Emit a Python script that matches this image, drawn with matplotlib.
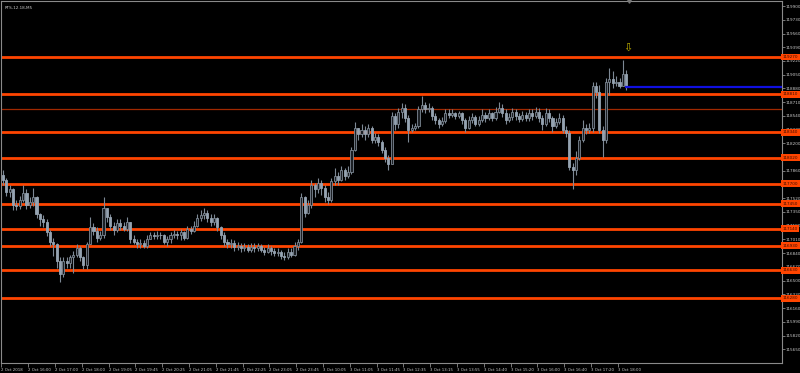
import matplotlib
matplotlib.use("Agg")
import matplotlib.pyplot as plt
import numpy as np

TITLE = "RTS-12.18,M5"

# RTS-12.18 M5 candles
first_open = 117810
close = [117750, 117600, 117630, 117440, 117420, 117500, 117590, 117440, 117470, 117530,
         117320, 117260, 117230, 117100, 116980, 116950, 116740, 116580, 116740, 116720,
         116790, 116820, 116900, 116790, 116690, 116950, 117170, 117120, 117030, 117060,
         117400, 117290, 117180, 117130, 117210, 117180, 117140, 117230, 117010, 116980,
         116950, 116970, 116930, 117020, 117060, 117050, 117070, 117060, 116980, 117010,
         117060, 117080, 117060, 117100, 117030, 117140, 117120, 117180, 117280, 117310,
         117340, 117280, 117230, 117270, 117160, 117060, 116980, 116950, 116970, 116920,
         116930, 116900, 116920, 116880, 116920, 116900, 116930, 116880, 116860, 116900,
         116870, 116840, 116860, 116810, 116790, 116860, 116820, 116930, 116980, 117540,
         117340, 117440, 117690, 117630, 117710, 117650, 117540, 117500, 117730, 117800,
         117750, 117870, 117800, 117850, 118120, 118390, 118310, 118370, 118320, 118390,
         118240, 118280, 118220, 118120, 118020, 117940, 118540, 118440, 118590, 118640,
         118520, 118370, 118390, 118410, 118620, 118680, 118620, 118640, 118540, 118490,
         118440, 118480, 118580, 118550, 118580, 118540, 118570, 118490, 118390, 118490,
         118530, 118440, 118490, 118550, 118520, 118570, 118520, 118590, 118640, 118580,
         118490, 118530, 118590, 118540, 118500, 118550, 118520, 118580, 118540, 118590,
         118520, 118440, 118580, 118520, 118420, 118470, 118520, 118370, 118330, 117910,
         117870, 118020, 118240, 118390, 118360, 118390, 118910, 118840, 118370, 118240,
         118960, 119000, 118950, 118960, 118910, 119060, 118900]
high = [117870, 117770, 117690, 117650, 117500, 117550, 117680, 117630, 117530, 117650,
        117550, 117340, 117310, 117260, 117130, 117030, 116970, 116790, 116790, 116790,
        116820, 116870, 116950, 116930, 116810, 116980, 117290, 117210, 117170, 117110,
        117540, 117380, 117320, 117220, 117260, 117260, 117220, 117290, 117230, 117060,
        117020, 117010, 117000, 117060, 117100, 117100, 117110, 117100, 117080, 117050,
        117100, 117130, 117120, 117140, 117120, 117180, 117180, 117240, 117330, 117370,
        117400, 117380, 117320, 117330, 117290, 117180, 117100, 117020, 117010, 117000,
        116980, 116960, 116970, 116950, 116970, 116960, 116970, 116950, 116920, 116950,
        116930, 116900, 116900, 116880, 116850, 116910, 116900, 116980, 117020, 117580,
        117550, 117500, 117750, 117710, 117770, 117750, 117690, 117600, 117770, 117900,
        117850, 117920, 117900, 117920, 118150, 118470, 118390, 118440, 118410, 118440,
        118420, 118330, 118320, 118240, 118160, 118060, 118590, 118570, 118640, 118700,
        118690, 118550, 118440, 118450, 118660, 118790, 118710, 118700, 118660, 118580,
        118520, 118530, 118630, 118620, 118620, 118590, 118600, 118590, 118520, 118540,
        118580, 118550, 118540, 118620, 118590, 118630, 118590, 118650, 118710, 118690,
        118620, 118580, 118640, 118620, 118580, 118600, 118590, 118630, 118620, 118650,
        118640, 118550, 118640, 118620, 118540, 118520, 118570, 118550, 118410, 118370,
        117960, 118100, 118290, 118490, 118440, 118450, 118960, 118960, 118920, 118410,
        119010, 119130, 119090, 119040, 119010, 119230, 119110]
low = [117690, 117550, 117530, 117380, 117370, 117390, 117470, 117390, 117400, 117420,
       117280, 117180, 117170, 117050, 116930, 116800, 116660, 116480, 116540, 116660,
       116660, 116600, 116790, 116740, 116640, 116640, 116950, 117070, 116980, 117000,
       117030, 117230, 117130, 117070, 117100, 117130, 117110, 117120, 116960, 116950,
       116910, 116900, 116900, 116900, 117010, 117010, 117020, 117020, 116950, 116930,
       116970, 117030, 117020, 117000, 117000, 117010, 117080, 117100, 117160, 117240,
       117260, 117230, 117180, 117190, 117110, 117010, 116930, 116900, 116910, 116870,
       116880, 116850, 116870, 116850, 116860, 116850, 116870, 116850, 116820, 116840,
       116820, 116800, 116810, 116770, 116750, 116770, 116790, 116800, 116880, 116960,
       117290, 117320, 117400, 117530, 117590, 117560, 117470, 117450, 117480, 117690,
       117680, 117730, 117750, 117770, 117820, 118100, 118240, 118280, 118240, 118280,
       118210, 118210, 118170, 118080, 117970, 117870, 117960, 118370, 118390, 118520,
       118470, 118220, 118340, 118360, 118390, 118590, 118580, 118590, 118490, 118440,
       118390, 118420, 118450, 118520, 118530, 118500, 118520, 118440, 118340, 118380,
       118450, 118410, 118420, 118470, 118470, 118490, 118480, 118490, 118570, 118530,
       118440, 118470, 118490, 118490, 118470, 118480, 118480, 118480, 118490, 118520,
       118470, 118370, 118420, 118470, 118340, 118390, 118440, 118330, 118280, 117870,
       117630, 117810, 118000, 118220, 118310, 118330, 118340, 118760, 118330, 118030,
       118210, 118800, 118890, 118910, 118880, 118910, 118860]

# horizontal levels drawn on the chart
levels = [119270, 118810, 118340, 118020, 117700, 117450, 117140, 116930, 116630, 116280]
thin_level = 118620
bid_price = 118900
arrow_price = 119380

y_ticks = list(range(115650, 119901, 170))
x_labels = ["2 Oct 2018", "2 Oct 16:00", "2 Oct 17:00", "2 Oct 18:00", "2 Oct 19:05",
            "2 Oct 19:45", "2 Oct 20:25", "2 Oct 21:05", "2 Oct 21:45", "2 Oct 22:25",
            "2 Oct 23:05", "2 Oct 23:45", "3 Oct 10:05", "3 Oct 11:05", "3 Oct 11:45",
            "3 Oct 12:35", "3 Oct 13:15", "3 Oct 13:55", "3 Oct 14:40", "3 Oct 15:20",
            "3 Oct 16:00", "3 Oct 16:40", "3 Oct 17:20", "3 Oct 18:00"]

ORANGE = "#ff4500"
GREY = "#8a8a8a"
TXT = "#c8c8c8"
plt.rcParams["font.family"] = ["Liberation Sans Narrow", "DejaVu Sans"]

close = np.array(close)
opn = np.concatenate([[first_open], close[:-1]])
high = np.array(high)
low = np.array(low)
idx = np.arange(len(close))

fig = plt.figure(figsize=(8.0, 3.73), dpi=100, facecolor="black")
ax = fig.add_axes([1 / 800, 10 / 373, 781 / 800, 362 / 373])
ax.set_facecolor("black")

# levels (under candles)
for lv in levels:
    ax.axhline(lv, color=ORANGE, lw=2.0, zorder=1)
ax.axhline(thin_level, color="#a02800", lw=0.9, zorder=1)

# candles
bull = close >= opn
ax.vlines(idx, low, high, color="#7d8894", lw=0.8, zorder=2)
ax.bar(idx[bull], (close - opn)[bull], bottom=opn[bull], width=0.62,
       color="#1c2025", edgecolor="#7d8894", lw=0.6, zorder=3)
ax.bar(idx[~bull], (opn - close)[~bull], bottom=close[~bull], width=0.62,
       color="#95a3b1", edgecolor="#95a3b1", lw=0.6, zorder=3)

ax.set_xlim(-0.6, 232.5)
ax.set_ylim(115480, 119963)
ax.hlines(bid_price, len(close) - 1.5, 232.5, color="#1010e0", lw=1.6, zorder=4)
ax.text(len(close) - 0.5, arrow_price, "\u21e9", color="#c0b000", fontsize=8,
        family="DejaVu Sans", ha="center", va="center", zorder=5)
# chart-shift marker on the top border
ax.plot([len(close) - 0.3], [1.0], marker="v", ms=2.5, color="#7a7a7a",
        transform=ax.get_xaxis_transform(), clip_on=False, zorder=6)

# price axis on the right
ax.yaxis.tick_right()
ax.set_yticks(y_ticks)
ax.set_yticklabels([str(v) for v in y_ticks])
ax.tick_params(axis="y", colors=GREY, labelcolor=TXT, labelsize=3.0,
               length=2, width=0.6, pad=0.8)
for lv in levels:
    ax.text(1.001, lv, str(lv), transform=ax.get_yaxis_transform(), fontsize=3.0,
            color="#3a0c00", ha="left", va="center", zorder=6, clip_on=False,
            bbox=dict(boxstyle="square,pad=0.35", fc=ORANGE, ec="none"))

# time axis
xt = [8 * k - 0.5 for k in range(len(x_labels))]
ax.set_xticks(xt)
ax.set_xticklabels(x_labels, ha="left")
ax.tick_params(axis="x", colors=GREY, labelcolor=TXT, labelsize=2.8,
               length=3, width=0.6, pad=0.6, direction="out")

for sp in ax.spines.values():
    sp.set_color(GREY)
    sp.set_linewidth(0.8)

ax.text(0.005, 0.985, TITLE, transform=ax.transAxes, fontsize=3.0, color=TXT,
        ha="left", va="top")

fig.savefig("out.png", dpi=100, facecolor="black")
